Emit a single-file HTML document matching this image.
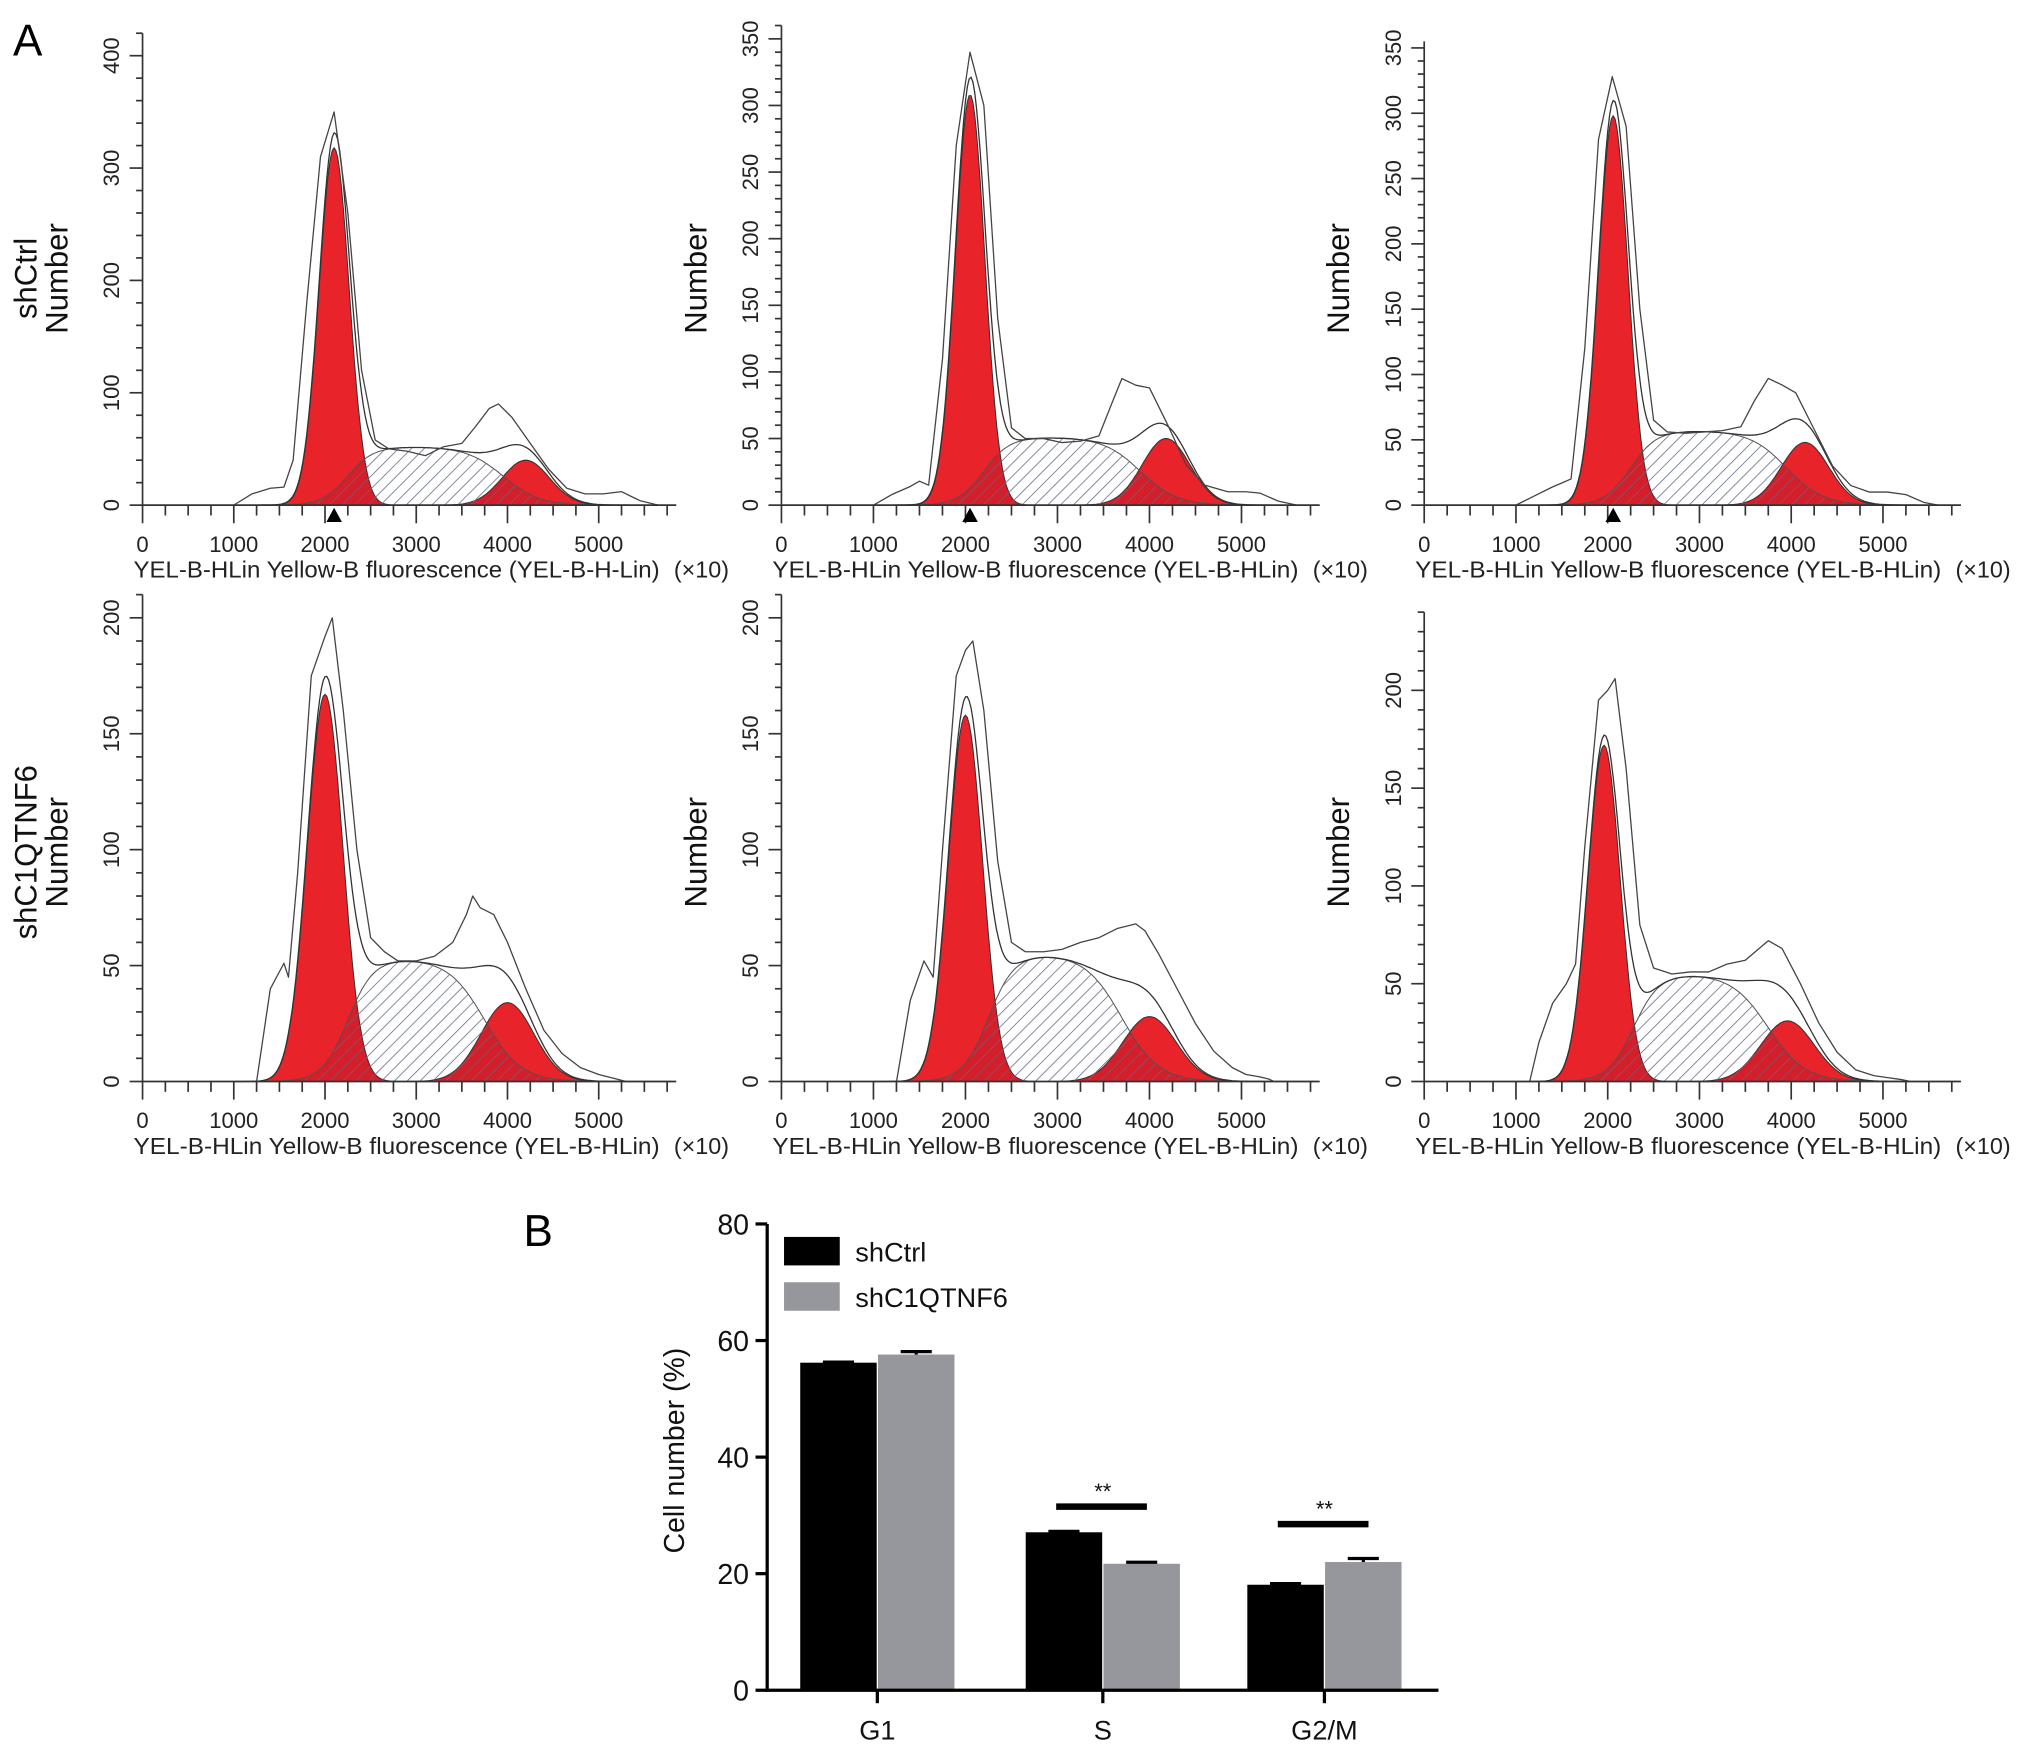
<!DOCTYPE html>
<html><head><meta charset="utf-8"><style>
html,body{margin:0;padding:0;background:#fff;}
svg{display:block;font-family:"Liberation Sans",Arial,sans-serif;}
</style></head><body>
<svg id="fig" width="2032" height="1755" viewBox="0 0 1568 1355" preserveAspectRatio="none" xmlns="http://www.w3.org/2000/svg">
<defs>
<pattern id="hatch" patternUnits="userSpaceOnUse" width="7" height="7" patternTransform="rotate(45)">
<line x1="0" y1="0" x2="0" y2="7" stroke="#6f7590" stroke-width="1.3"/>
</pattern>
</defs>
<rect width="1568" height="1355" fill="#fff"/>
<text x="10" y="43" font-size="34">A</text>
<text x="404" y="962" font-size="34">B</text>
<g id="hists"></g>
<g id="bars"></g>
</svg>
<script>
// ---------- Histogram data (panel A) ----------
const panelIds = ['shctrl-1','shctrl-2','shctrl-3','shc1qtnf6-1','shc1qtnf6-2','shc1qtnf6-3'];
const yMaxVals = [420, 360, 355, 210, 210, 240];
const yTopTick = [400, 350, 350, 200, 200, 200];
const yMajorStep = [100, 50, 50, 50, 50, 50];
const yMinorStep = [20, 10, 10, 10, 10, 10];
// G1 gaussian: mean, sd, height
const g1Mean = [2100, 2050, 2060, 2000, 2000, 1960];
const g1Sd = [165, 160, 160, 195, 185, 175];
const g1Height = [318, 308, 298, 167, 158, 172];
// G2 gaussian
const g2Mean = [4200, 4180, 4150, 4000, 4000, 3960];
const g2Sd = [260, 260, 260, 290, 290, 290];
const g2Height = [40, 50, 48, 34, 28, 31];
// S phase plateau: height, start, end
const sHeight = [52, 51, 57, 53, 55, 55];
const sStart = [2250, 2200, 2250, 2250, 2250, 2280];
const sEnd = [3950, 3900, 3950, 3750, 3700, 3750];
// Raw histogram traces (x in channel units, y in counts)
const rawX = [
 [1000,1200,1400,1550,1650,1800,1950,2100,2250,2400,2550,2700,2900,3100,3300,3500,3650,3800,3900,4050,4250,4450,4650,4850,5050,5250,5450,5650],
 [1000,1200,1400,1500,1600,1750,1900,2050,2200,2350,2500,2650,2850,3050,3250,3450,3600,3700,3850,4000,4200,4400,4600,4850,5050,5200,5400,5600],
 [1000,1200,1400,1500,1600,1750,1900,2050,2200,2350,2500,2650,2850,3050,3250,3450,3600,3750,3900,4050,4250,4450,4650,4850,5050,5250,5450,5600],
 [1250,1400,1550,1600,1700,1850,2000,2080,2200,2350,2500,2650,2800,3000,3200,3400,3550,3620,3700,3850,4000,4200,4400,4600,4800,5000,5200,5300],
 [1250,1400,1550,1650,1750,1900,2000,2080,2200,2350,2500,2650,2850,3050,3250,3450,3650,3850,3950,4100,4300,4500,4700,4900,5050,5200,5300,5350],
 [1150,1250,1400,1550,1650,1750,1900,2000,2080,2200,2350,2500,2700,2900,3100,3300,3500,3650,3750,3900,4100,4300,4500,4700,4900,5050,5200,5300]
];
const rawY = [
 [0,10,15,16,40,180,310,350,260,120,58,50,48,44,52,55,70,86,90,78,55,32,15,10,10,12,4,0],
 [0,8,14,18,15,110,270,340,300,140,58,50,50,47,48,52,78,95,90,88,60,30,15,10,10,9,3,0],
 [0,7,14,17,20,120,280,328,290,150,65,56,55,56,57,60,80,97,92,86,58,30,15,10,10,8,2,0],
 [0,40,51,45,90,175,192,200,160,100,62,56,52,52,54,60,72,80,75,72,60,40,22,12,6,3,1,0],
 [0,35,52,45,100,175,186,190,160,95,60,56,56,57,60,62,66,68,65,55,40,25,13,6,3,2,1,0],
 [0,20,40,50,60,120,195,200,206,160,80,58,55,56,56,60,62,68,72,68,50,30,15,6,3,2,1,0]
];
// ---------- Bar chart data (panel B) ----------
const barCategories = ['G1','S','G2/M'];
const barSeries = ['shCtrl','shC1QTNF6'];
const shCtrlValues = [56.2, 27.1, 18.1];
const shC1Values = [57.6, 21.7, 22.0];
const shCtrlErr = [0.1, 0.15, 0.2];
const shC1Err = [0.5, 0.25, 0.6];
const yTicksB = [0, 20, 40, 60, 80];
const sigLabels = ['', '**', '**'];
const sigLevels = [0, 31.5, 28.5];

const NS='http://www.w3.org/2000/svg';
function mk(tag, attrs, parent){const e=document.createElementNS(NS,tag);for(const k in attrs)e.setAttribute(k,attrs[k]);if(parent)parent.appendChild(e);return e;}

const hists=document.getElementById('hists');
const originsX=[110,603,1099,110,603,1099];
const originsY=[390,390,390,835,835,835];
const topY=[43,30,37,477,477,533];
const pxPer1000=[70.4,71,70.8,70.4,71,70.8];
const xLabels=['YEL-B-HLin Yellow-B fluorescence (YEL-B-H-Lin)','YEL-B-HLin Yellow-B fluorescence (YEL-B-HLin)','YEL-B-HLin Yellow-B fluorescence (YEL-B-HLin)','YEL-B-HLin Yellow-B fluorescence (YEL-B-HLin)','YEL-B-HLin Yellow-B fluorescence (YEL-B-HLin)','YEL-B-HLin Yellow-B fluorescence (YEL-B-HLin)'];

function sig(z){return 1/(1+Math.exp(-z));}

panelIds.forEach((pid,i)=>{
  const g=mk('g',{},hists);
  
  
  const ox=originsX[i], oy=originsY[i];
  const ys=(oy-topY[i])/yTopTick[i];
  const X=v=>ox+v*pxPer1000[i]/1000;
  const Y=v=>oy-v*ys;
  const g1=x=>g1Height[i]*Math.exp(-0.5*Math.pow((x-g1Mean[i])/g1Sd[i],2));
  const g2=x=>g2Height[i]*Math.exp(-0.5*Math.pow((x-g2Mean[i])/g2Sd[i],2));
  const sp=x=>sHeight[i]*sig((x-sStart[i])/140)*sig((sEnd[i]-x)/200);
  const xs=[];for(let x=1000;x<=5800;x+=20)xs.push(x);
  const area=f=>{let d='M'+X(xs[0])+','+oy;xs.forEach(x=>{d+=' L'+X(x).toFixed(1)+','+Y(f(x)).toFixed(1);});d+=' L'+X(xs[xs.length-1])+','+oy+' Z';return d;};
  const line=f=>{let d='';xs.forEach((x,k)=>{d+=(k?' L':'M')+X(x).toFixed(1)+','+Y(f(x)).toFixed(1);});return d;};
  let p=mk('path',{d:area(sp),fill:'#fff',stroke:'none'},g);
  p=mk('path',{d:area(g1),fill:'#e8232a',stroke:'#333','stroke-width':0.8},g);
  
  p=mk('path',{d:area(g2),fill:'#e8232a',stroke:'#333','stroke-width':0.8},g);
  
  p=mk('path',{d:area(sp),fill:'url(#hatch)',stroke:'#555','stroke-width':0.8},g);
  
  p=mk('path',{d:area(x=>Math.min(sp(x),Math.max(g1(x),g2(x)))),fill:'#b0182a','fill-opacity':0.35,stroke:'none'},g);
  p=mk('path',{d:line(x=>g1(x)+g2(x)+sp(x)),fill:'none',stroke:'#333','stroke-width':1},g);
  
  let d='';rawX[i].forEach((x,k)=>{d+=(k?' L':'M')+X(x).toFixed(1)+','+Y(rawY[i][k]).toFixed(1);});
  p=mk('path',{d:d,fill:'none',stroke:'#444','stroke-width':1,'stroke-linejoin':'round'},g);
  
  // axes
  const ax=mk('g',{stroke:'#333','stroke-width':1.3},g);
  
  mk('line',{x1:ox,y1:oy,x2:X(5850),y2:oy},ax);
  mk('line',{x1:ox,y1:oy,x2:ox,y2:oy-yMaxVals[i]*ys},ax);
  for(let v=0;v<=5750;v+=250){const maj=v%1000===0;mk('line',{x1:X(v),y1:oy,x2:X(v),y2:oy+(maj?14:8)},ax);}
  for(let v=0;v<=yMaxVals[i];v+=yMinorStep[i]){const maj=v%yMajorStep[i]===0;mk('line',{x1:ox,y1:Y(v),x2:ox-(maj?10:5),y2:Y(v)},ax);}
  for(let v=0;v<=5000;v+=1000){const t=mk('text',{x:X(v),y:oy+36,'font-size':17,'text-anchor':'middle',fill:'#222'},g);t.textContent=v;}
  for(let v=0;v<=yTopTick[i];v+=yMajorStep[i]){const t=mk('text',{transform:'translate('+(ox-18)+','+Y(v)+') rotate(-90)','font-size':17,'text-anchor':'middle',fill:'#222'},g);t.textContent=v;}
  let t=mk('text',{x:ox-7,y:oy+56,'font-size':18,fill:'#222',textLength:406,lengthAdjust:'spacingAndGlyphs'},g);t.textContent=xLabels[i];
  
  t=mk('text',{x:ox+410,y:oy+56,'font-size':18,fill:'#222'},g);t.textContent='(×10)';
  
  const cy=i<3?215:658;
  t=mk('text',{transform:'translate('+(ox-58)+','+cy+') rotate(-90)','font-size':24,'text-anchor':'middle',fill:'#111'},g);t.textContent='Number';
  
  if(i<3){const m=mk('path',{d:'M'+(X(g1Mean[i])-6)+','+(oy+13)+' L'+(X(g1Mean[i])+6)+','+(oy+13)+' L'+X(g1Mean[i])+','+(oy+2)+' Z',fill:'#000'},g);}
});
let rl=mk('text',{transform:'translate(28,215) rotate(-90)','font-size':24,'text-anchor':'middle',fill:'#111'},hists);rl.textContent='shCtrl';

rl=mk('text',{transform:'translate(28,658) rotate(-90)','font-size':24,'text-anchor':'middle',fill:'#111'},hists);rl.textContent='shC1QTNF6';


// ---------- Bar chart ----------
const bars=document.getElementById('bars');
const bx0=592,by0=1305,bpx=4.5,bx1=1110;
const BY=v=>by0-v*bpx;
const centers=[677,851,1022],bw=59;
const cols=['#000','#96979c'];
const vals=[shCtrlValues,shC1Values],errs=[shCtrlErr,shC1Err];
barCategories.forEach((c,k)=>{
  vals.forEach((arr,s)=>{
    const x=centers[k]+(s?0.5:-bw-0.5);
    const r=mk('rect',{x:x,y:BY(arr[k]),width:bw,height:by0-BY(arr[k]),fill:cols[s]},bars);
    
    
    const ex=x+bw/2;
    const e=mk('path',{d:'M'+(ex-12)+','+BY(arr[k]+errs[s][k])+' H'+(ex+12)+' M'+ex+','+BY(arr[k]+errs[s][k])+' V'+BY(arr[k]),stroke:'#000','stroke-width':2.5,fill:'none'},bars);
    
  });
  let t=mk('text',{x:centers[k],y:1343,'font-size':21,'text-anchor':'middle',fill:'#111'},bars);t.textContent=c;
  
  if(sigLabels[k]){
    const l=mk('line',{x1:centers[k]-36,x2:centers[k]+34,y1:BY(sigLevels[k]),y2:BY(sigLevels[k]),stroke:'#000','stroke-width':5},bars);
    
    t=mk('text',{x:centers[k],y:BY(sigLevels[k])-6,'font-size':17,'text-anchor':'middle',fill:'#111'},bars);t.textContent=sigLabels[k];
    
  }
  const tk=mk('line',{x1:centers[k],x2:centers[k],y1:by0,y2:by0+10,stroke:'#000','stroke-width':2.5},bars);
  
});
let axb=mk('path',{d:'M'+bx0+','+BY(80)+' V'+by0+' H'+bx1,stroke:'#000','stroke-width':2.5,fill:'none'},bars);

yTicksB.forEach(v=>{
  mk('line',{x1:bx0-9,x2:bx0,y1:BY(v),y2:BY(v),stroke:'#000','stroke-width':2.5},bars);
  const t=mk('text',{x:bx0-14,y:BY(v)+8,'font-size':22,'text-anchor':'end',fill:'#111'},bars);t.textContent=v;
  
});
let yt=mk('text',{transform:'translate(528,1120) rotate(-90)','font-size':22,'text-anchor':'middle',fill:'#111'},bars);yt.textContent='Cell number (%)';

barSeries.forEach((s,k)=>{
  const r=mk('rect',{x:605,y:955+k*35,width:43,height:22,fill:cols[k]},bars);
  
  const t=mk('text',{x:660,y:974+k*35,'font-size':21,fill:'#111'},bars);t.textContent=s;
  
});
</script>
</body></html>
